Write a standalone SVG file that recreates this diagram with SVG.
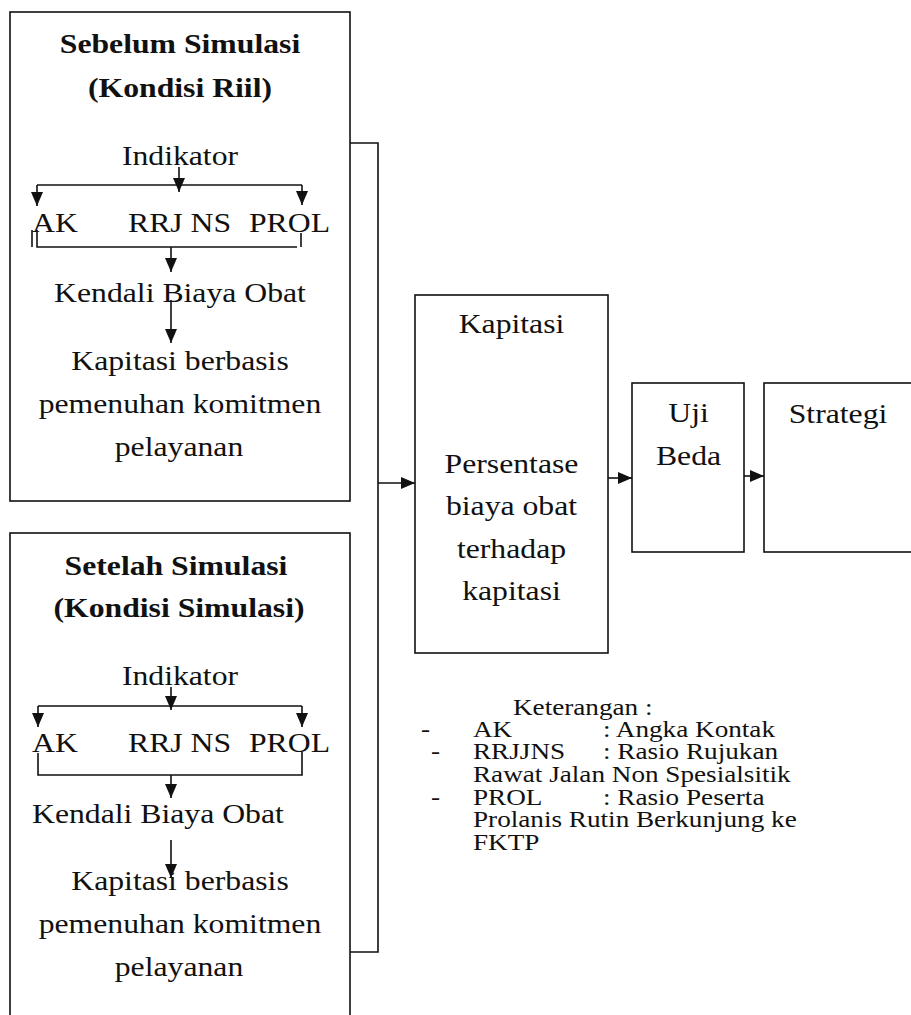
<svg xmlns="http://www.w3.org/2000/svg" width="911" height="1015" viewBox="0 0 911 1015">
<style>
.box{fill:#fff;stroke:#111;stroke-width:1.6}
.ln{fill:none;stroke:#111;stroke-width:1.6}
.ar{fill:none;stroke:#111;stroke-width:1.6;marker-end:url(#ah)}
text{font-family:"Liberation Serif","Times New Roman",serif;fill:#111}
.t{font-size:28px}
.b{font-size:28px;font-weight:bold}
.s{font-size:24px}
.m{text-anchor:middle}
</style>
<defs>
<marker id="ah" viewBox="0 0 14 12" refX="14" refY="6" markerWidth="14" markerHeight="12" markerUnits="userSpaceOnUse" orient="auto">
<path d="M0,0 L14,6 L0,12 z" fill="#111"/>
</marker>
</defs>
<rect width="911" height="1015" fill="#fff"/>

<g id="box-sebelum">
<rect class="box" x="10" y="12" width="340" height="489"/>
<g transform="scale(1.1325,1)">
<text class="b m" x="158.94" y="53">Sebelum Simulasi</text>
<text class="b m" x="158.94" y="97">(Kondisi Riil)</text>
<text class="t m" x="158.94" y="165">Indikator</text>
<text class="t" x="28.26" y="232">AK</text>
<text class="t" x="113.02" y="232">RRJ NS</text>
<text class="t" x="219.87" y="232">PROL</text>
<text class="t m" x="158.94" y="302">Kendali Biaya Obat</text>
<text class="t m" x="158.94" y="370">Kapitasi berbasis</text>
<text class="t m" x="158.94" y="413">pemenuhan komitmen</text>
<text class="t m" x="158.06" y="456">pelayanan</text>
</g>
</g>

<g id="box-setelah">
<rect class="box" x="10" y="533" width="340" height="500"/>
<g transform="scale(1.1325,1)">
<text class="b m" x="155.4" y="575">Setelah Simulasi</text>
<text class="b m" x="158.06" y="617">(Kondisi Simulasi)</text>
<text class="t m" x="158.94" y="685">Indikator</text>
<text class="t" x="28.26" y="752">AK</text>
<text class="t" x="113.02" y="752">RRJ NS</text>
<text class="t" x="219.87" y="752">PROL</text>
<text class="t" x="28.26" y="823">Kendali Biaya Obat</text>
<text class="t m" x="158.94" y="890">Kapitasi berbasis</text>
<text class="t m" x="158.94" y="933">pemenuhan komitmen</text>
<text class="t m" x="158.06" y="976">pelayanan</text>
</g>
</g>

<g id="box-kapitasi">
<rect class="box" x="415" y="295" width="193" height="358"/>
<g transform="scale(1.1325,1)">
<text class="t m" x="451.66" y="333">Kapitasi</text>
<text class="t m" x="451.66" y="473">Persentase</text>
<text class="t m" x="451.66" y="515">biaya obat</text>
<text class="t m" x="451.66" y="558">terhadap</text>
<text class="t m" x="451.66" y="600">kapitasi</text>
</g>
</g>

<g id="box-uji">
<rect class="box" x="632" y="383" width="112" height="169"/>
<g transform="scale(1.1325,1)">
<text class="t m" x="607.95" y="422">Uji</text>
<text class="t m" x="607.95" y="465">Beda</text>
</g>
</g>

<g id="box-strategi">
<rect class="box" x="764" y="383" width="170" height="169"/>
<g transform="scale(1.1325,1)">
<text class="t m" x="739.96" y="423">Strategi</text>
</g>
</g>

<g id="legend">
<g transform="scale(1.1325,1)">
<text class="s" x="452.98" y="715">Keterangan :</text>
<text class="s" x="371.75" y="737">-</text>
<text class="s" x="417.66" y="737">AK</text>
<text class="s" x="532.45" y="737">: Angka Kontak</text>
<text class="s" x="380.57" y="759">-</text>
<text class="s" x="417.66" y="759">RRJJNS</text>
<text class="s" x="532.45" y="759">: Rasio Rujukan</text>
<text class="s" x="417.66" y="782">Rawat Jalan Non Spesialsitik</text>
<text class="s" x="380.57" y="805">-</text>
<text class="s" x="417.66" y="805">PROL</text>
<text class="s" x="532.45" y="805">: Rasio Peserta</text>
<text class="s" x="417.66" y="827">Prolanis Rutin Berkunjung ke</text>
<text class="s" x="417.66" y="850">FKTP</text>
</g>
</g>

<g id="connectors">
<!-- box 1 internal -->
<path class="ar" d="M179,167 V192"/>
<path class="ln" d="M37,185 H302"/>
<path class="ar" d="M37,185 V206"/>
<path class="ar" d="M302,185 V205"/>
<path class="ln" d="M32,230 V247 M37,230 V247 H297 M301,233 V247"/>
<path class="ar" d="M171,247 V272"/>
<path class="ar" d="M171,300 V343"/>
<!-- box 2 internal -->
<path class="ar" d="M171,687 V710"/>
<path class="ln" d="M38,706 H302"/>
<path class="ar" d="M38,706 V727"/>
<path class="ar" d="M302,706 V727"/>
<path class="ln" d="M38,753 V775 H302 V752"/>
<path class="ar" d="M171,775 V798"/>
<path class="ar" d="M171,840 V878"/>
<!-- main flow -->
<path class="ln" d="M350,143 H378 V952 H350"/>
<path class="ar" d="M378,483 H415"/>
<path class="ar" d="M608,478 H632"/>
<path class="ar" d="M744,476 H764"/>
</g>
</svg>
